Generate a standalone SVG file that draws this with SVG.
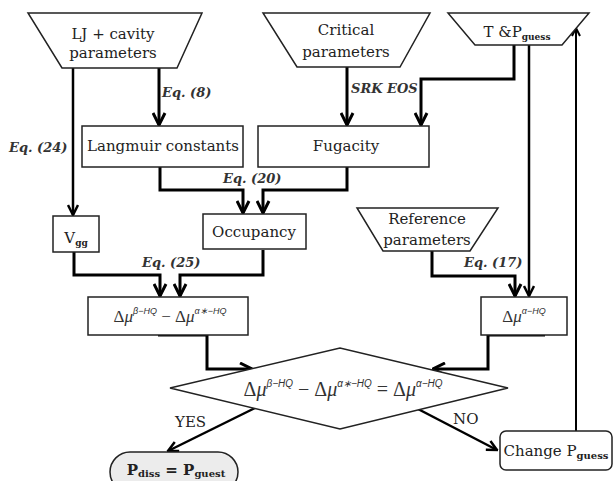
<svg xmlns="http://www.w3.org/2000/svg" width="614" height="481" viewBox="0 0 614 481">
<style>
.shape{fill:#fff;stroke:#222;stroke-width:1.5}
.lbl{font-family:"DejaVu Serif",serif;font-size:15px;fill:#222;text-anchor:middle}
.eq{font-family:"DejaVu Serif",serif;font-size:13px;font-style:italic;font-weight:bold;fill:#333}
.math{font-family:"Liberation Serif",serif;font-size:17px;fill:#333;text-anchor:middle}
.sup{font-family:"Liberation Sans",sans-serif;font-style:italic;font-size:9px}
.c{fill:none;stroke:#000;stroke-width:3}
.ca{fill:none;stroke:#000;stroke-width:3;marker-end:url(#ah)}
</style>
<defs>
<marker id="ah" viewBox="0 0 10 10" refX="9" refY="5" markerWidth="5" markerHeight="5" orient="auto" markerUnits="strokeWidth">
<path d="M1,1 L9,5 L1,9" fill="none" stroke="#000" stroke-width="2"/>
</marker>
</defs>
<rect width="614" height="481" fill="#fff"/>
<g id="connectors">
<path class="ca" style="stroke-width:2.5" d="M73,68 V215"/>
<path class="ca" d="M159,68 V125"/>
<path class="ca" d="M347,67 V125"/>
<path class="ca" d="M514,45 V79 H421 V125"/>
<path class="ca" style="stroke-width:2.5" d="M529,45 V296"/>
<path class="ca" d="M160,167 V190 H243 V213"/>
<path class="ca" d="M347,167 V190 H263 V213"/>
<path class="ca" d="M74,252 V275 H160 V296"/>
<path class="ca" d="M263,250 V275 H180 V296"/>
<path class="ca" d="M432,251 V276 H515 V296"/>
<path class="ca" d="M158,335 H207 V369 H252"/>
<path class="ca" d="M545,335 H488 V369 H433"/>
<path class="ca" style="stroke-width:2.5" d="M255,408 L168,451"/>
<path class="ca" style="stroke-width:2.5" d="M418,409 L497,450"/>
<path class="ca" style="stroke-width:2" d="M576,431 V28"/>
<text class="eq" x="162" y="97">Eq. (8)</text>
<text class="eq" x="9" y="152">Eq. (24)</text>
<text class="eq" x="351" y="93">SRK EOS</text>
<text class="eq" x="223" y="183">Eq. (20)</text>
<text class="eq" x="142" y="267">Eq. (25)</text>
<text class="eq" x="464" y="267">Eq. (17)</text>
<text class="lbl" x="175" y="427" style="text-anchor:start">YES</text>
<text class="lbl" x="453" y="424" style="text-anchor:start">NO</text>
</g>
<g id="lj">
<polygon class="shape" points="28,13 202,13 177,68 62,68"/>
<text class="lbl" x="113" y="39">LJ + cavity</text>
<text class="lbl" x="113" y="58">parameters</text>
</g>
<g id="critical">
<polygon class="shape" points="263,13 430,13 400,67 297,67"/>
<text class="lbl" x="346" y="35">Critical</text>
<text class="lbl" x="346" y="57">parameters</text>
</g>
<g id="tp">
<polygon class="shape" points="448,13 589,13 562,45 475,45"/>
<text class="lbl" x="517" y="37">T &amp;P<tspan font-size="9" font-weight="bold" dy="3">guess</tspan></text>
</g>
<g id="langmuir">
<rect class="shape" x="82" y="126" width="161" height="41"/>
<text class="lbl" x="163" y="151">Langmuir constants</text>
</g>
<g id="fugacity">
<rect class="shape" x="258" y="126" width="171" height="41"/>
<text class="lbl" x="346" y="151">Fugacity</text>
</g>
<g id="vgg">
<rect class="shape" x="53" y="216" width="46" height="36"/>
<text class="lbl" x="76" y="243">V<tspan font-size="9" font-weight="bold" dy="3">gg</tspan></text>
</g>
<g id="occupancy">
<rect class="shape" x="203" y="214" width="103" height="35"/>
<text class="lbl" x="254" y="237">Occupancy</text>
</g>
<g id="reference">
<polygon class="shape" points="357,208 498,208 470,251 383,251"/>
<text class="lbl" x="427" y="224">Reference</text>
<text class="lbl" x="427" y="245">parameters</text>
</g>
<g id="dmu-beta">
<rect class="shape" x="88" y="297" width="160" height="38"/>
<text class="math" x="170" y="322">Δ<tspan font-style="italic">μ</tspan><tspan class="sup" dy="-8">β−HQ</tspan><tspan dy="8"> − Δ</tspan><tspan font-style="italic">μ</tspan><tspan class="sup" dy="-8">α∗−HQ</tspan></text>
</g>
<g id="dmu-alpha">
<rect class="shape" x="481" y="297" width="86" height="38"/>
<text class="math" x="524" y="322">Δ<tspan font-style="italic">μ</tspan><tspan class="sup" dy="-8">α−HQ</tspan></text>
</g>
<g id="decision">
<polygon class="shape" points="170,388 340,348 508,388 340,429"/>
<text class="math" x="343" y="396" style="font-size:20px">Δ<tspan font-style="italic">μ</tspan><tspan class="sup" dy="-9" style="font-size:10px">β−HQ</tspan><tspan dy="9"> − Δ</tspan><tspan font-style="italic">μ</tspan><tspan class="sup" dy="-9" style="font-size:10px">α∗−HQ</tspan><tspan dy="9"> = Δ</tspan><tspan font-style="italic">μ</tspan><tspan class="sup" dy="-9" style="font-size:10px">α−HQ</tspan></text>
</g>
<g id="pdiss">
<rect x="110" y="452" width="128" height="40" rx="20" ry="20" fill="#ececec" stroke="#222" stroke-width="1.5"/>
<text class="lbl" x="176" y="475" font-weight="bold">P<tspan font-size="10" dy="2">diss</tspan><tspan dy="-2"> = P</tspan><tspan font-size="10" dy="2">guest</tspan></text>
</g>
<g id="change">
<rect class="shape" x="500" y="431" width="112" height="39" rx="6" ry="6"/>
<text class="lbl" x="556" y="456">Change P<tspan font-size="10" font-weight="bold" dy="3">guess</tspan></text>
</g>
</svg>
